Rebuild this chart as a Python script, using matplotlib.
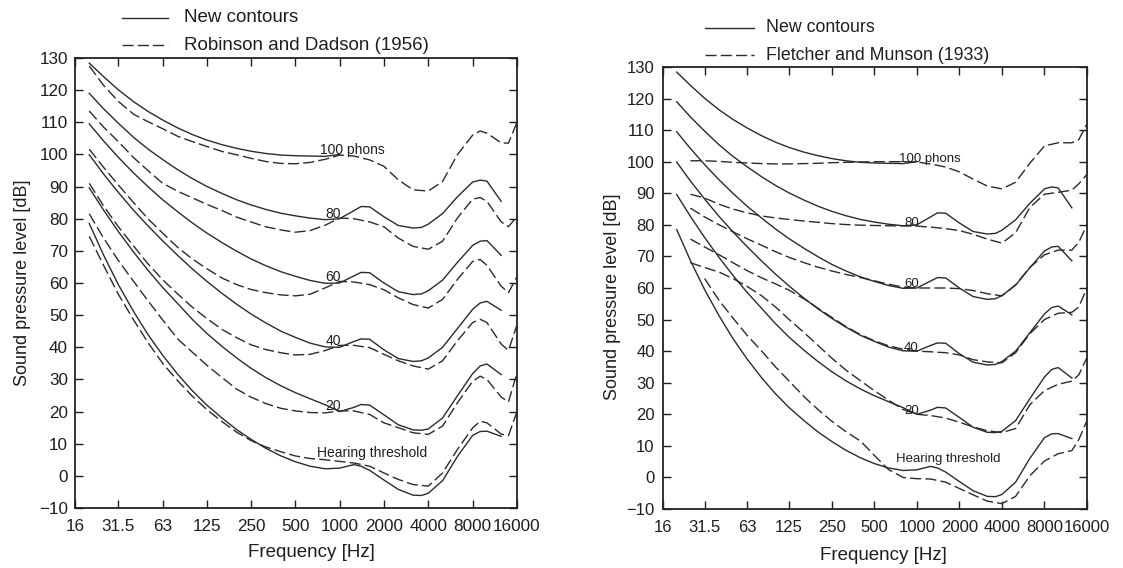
import numpy as np
import matplotlib
matplotlib.use("Agg")
import matplotlib.pyplot as plt
from matplotlib.lines import Line2D

plt.rcParams['font.family'] = ['Liberation Sans', 'DejaVu Sans']

nan = np.nan

# ---------------- data ----------------
tick_freqs = [16, 31.5, 63, 125, 250, 500, 1000, 2000, 4000, 8000, 16000]
tick_labels = ["16", "31.5", "63", "125", "250", "500", "1000", "2000", "4000", "8000", "16000"]
ytick_vals = list(range(-10, 131, 10))

# New contours (ISO 226:2003)
iso_freq = [20, 25, 31.5, 40, 50, 63, 80, 100, 125, 160, 200, 250, 315, 400, 500, 630, 800,
            1000, 1250, 1400, 1600, 2000, 2500, 3150, 3600, 4000, 5000, 6300, 8000, 9000, 10000, 12500]
iso_thr = [78.5, 68.7, 59.5, 51.1, 44.0, 37.5, 31.5, 26.5, 22.1, 17.9, 14.4, 11.4, 8.6, 6.2, 4.4, 3.0, 2.2,
           2.4, 3.5, 3.0, 1.7, -1.3, -4.2, -6.0, -6.1, -5.4, -1.5, 6.0, 12.6, 13.8, 13.9, 12.3]
iso_20 = [89.6, 82.7, 76.0, 69.6, 64.0, 58.6, 53.5, 48.7, 44.4, 40.2, 36.7, 33.5, 30.6, 28.0, 25.9, 24.0, 22.1,
          20.0, 21.3, 22.2, 22.0, 19.0, 15.9, 14.3, 14.2, 14.6, 18.0, 24.9, 31.8, 34.2, 34.8, 31.5]
iso_40 = [99.9, 93.9, 88.2, 82.6, 77.8, 73.1, 68.5, 64.4, 60.6, 56.7, 53.4, 50.4, 47.6, 45.0, 43.1, 41.3, 40.1,
          40.0, 41.8, 42.6, 42.5, 39.2, 36.5, 35.6, 35.8, 36.7, 40.0, 45.8, 51.8, 53.8, 54.3, 51.5]
iso_60 = [109.5, 104.2, 99.1, 94.2, 90.0, 85.9, 82.1, 78.7, 75.6, 72.5, 69.9, 67.5, 65.4, 63.5, 62.1, 60.8, 59.9,
          60.0, 62.2, 63.3, 63.2, 60.0, 57.3, 56.4, 56.6, 57.6, 60.9, 66.4, 71.7, 73.0, 73.2, 68.6]
iso_80 = [119.0, 114.2, 109.7, 105.3, 101.7, 98.4, 95.2, 92.5, 90.1, 87.8, 85.9, 84.3, 82.9, 81.7, 80.9, 80.2, 79.7,
          80.0, 82.5, 83.8, 83.7, 80.6, 77.9, 77.1, 77.3, 78.3, 81.6, 86.8, 91.4, 92.0, 91.7, 85.4]
iso_100_freq = [20, 25, 31.5, 40, 50, 63, 80, 100, 125, 160, 200, 250, 315, 400, 500, 630, 800, 1000]
iso_100 = [128.4, 124.2, 120.1, 116.4, 113.4, 110.7, 108.2, 106.2, 104.5, 103.0, 101.9, 101.0, 100.3, 99.8, 99.6,
           99.5, 99.4, 100.0]

# Robinson and Dadson (1956)
rd_freq = [20, 25, 31.5, 40, 50, 63, 80, 100, 125, 160, 200, 250, 315, 400, 500, 630, 800, 1000, 1250, 1600,
           2000, 2500, 3150, 4000, 5000, 6300, 8000, 9000, 10000, 12500, 14000, 16000]
rd_thr = [74.5, 65.5, 56.5, 48.5, 41.5, 35.0, 29.5, 24.8, 20.7, 16.8, 13.6, 11.0, 9.0, 7.5, 6.2, 5.4, 5.0, 4.5, 4.0,
          3.0, 0.9, -1.1, -2.7, -3.2, 0.9, 8.2, 14.9, 17.0, 16.5, 13.0, 12.5, 20.0]
rd_20 = [81.5, 74.0, 67.0, 60.5, 54.5, 48.5, 42.5, 38.5, 34.5, 30.5, 27.0, 24.5, 22.5, 21.0, 20.2, 19.7, 19.6, 20.2,
         20.2, 19.1, 16.5, 15.0, 13.4, 12.9, 15.5, 22.7, 29.4, 31.0, 30.0, 24.5, 23.0, 32.0]
rd_40 = [91.0, 84.0, 77.5, 71.5, 66.0, 61.0, 56.5, 52.5, 49.0, 45.5, 43.0, 40.8, 39.3, 38.3, 37.6, 37.8, 39.0, 40.6,
         40.6, 39.9, 37.8, 35.8, 34.2, 33.2, 35.8, 42.0, 47.7, 48.7, 47.7, 41.0, 39.0, 47.0]
rd_60 = [101.6, 96.0, 90.5, 85.0, 80.0, 75.5, 71.0, 67.5, 64.5, 61.5, 59.5, 58.0, 57.0, 56.3, 56.0, 56.5, 58.5, 60.5,
         60.3, 59.5, 57.9, 55.4, 53.3, 52.2, 54.9, 61.1, 66.7, 67.3, 65.5, 59.0, 57.0, 62.0]
rd_80 = [113.5, 108.5, 104.0, 99.0, 95.0, 91.0, 88.5, 86.5, 84.5, 82.5, 80.5, 79.0, 77.5, 76.5, 75.8, 76.3, 78.0,
         80.2, 80.0, 79.0, 77.5, 74.0, 71.4, 70.5, 73.0, 80.2, 86.1, 86.6, 85.4, 79.0, 77.5, 80.7]
rd_100 = [127.5, 121.5, 116.5, 112.5, 110.2, 108.0, 105.6, 104.0, 102.5, 100.9, 99.9, 98.8, 97.8, 97.2, 97.1, 97.5,
          98.5, 99.8, 99.5, 98.3, 96.3, 92.1, 89.0, 88.6, 91.6, 99.9, 106.0, 107.3, 106.6, 103.6, 103.5, 110.0]

# Fletcher and Munson (1933)
fm_freq = [25, 31.5, 40, 50, 63, 80, 100, 125, 160, 200, 250, 315, 400, 500, 630, 800, 1000, 1250, 1600, 2000,
           2500, 3150, 4000, 5000, 6300, 8000, 10000, 12500, 14000, 16000]
fm_thr = [nan, 63.0, 56.0, 50.5, 45.0, 40.0, 35.0, 30.5, 25.5, 21.5, 17.8, 14.5, 11.5, 7.0, 2.5, 0.0, -0.4, -0.5,
          -1.5, -3.5, -5.5, -7.5, -8.3, -6.0, 0.5, 5.2, 7.5, 8.5, 12.0, 18.0]
fm_20 = [68.0, 66.5, 65.0, 63.0, 60.5, 57.5, 54.0, 50.0, 45.8, 41.8, 37.8, 34.0, 30.6, 27.5, 24.5, 21.5, 20.0, 19.6,
         18.8, 17.5, 16.0, 14.8, 14.2, 15.5, 23.0, 27.5, 29.5, 30.5, 32.5, 38.0]
fm_40 = [75.5, 73.0, 70.5, 68.0, 65.5, 63.2, 61.3, 59.3, 56.5, 53.6, 50.7, 47.8, 45.2, 43.3, 41.7, 40.6, 40.0, 39.8,
         39.5, 38.8, 37.3, 36.6, 36.3, 39.5, 45.5, 50.0, 52.0, 52.3, 54.0, 60.0]
fm_60 = [85.3, 82.5, 80.0, 77.8, 75.6, 73.5, 71.5, 69.7, 68.0, 66.6, 65.4, 64.3, 63.3, 62.3, 61.2, 60.3, 60.0, 60.0,
         60.0, 59.8, 59.2, 58.2, 57.5, 61.0, 66.5, 70.5, 72.0, 72.0, 74.5, 80.0]
fm_80 = [89.7, 88.5, 86.5, 85.0, 83.8, 82.8, 82.2, 81.7, 81.2, 80.8, 80.4, 80.1, 79.9, 79.8, 79.7, 79.7, 79.6, 79.3,
         78.8, 78.2, 77.0, 75.5, 74.2, 77.5, 85.5, 89.7, 90.3, 91.0, 93.0, 96.0]
fm_100 = [100.3, 100.3, 100.1, 99.8, 99.6, 99.4, 99.3, 99.3, 99.4, 99.5, 99.7, 99.8, 99.9, 100.0, 100.0, 100.0, 99.9,
          99.3, 98.3, 96.8, 94.5, 92.3, 91.4, 93.5, 99.5, 105.0, 106.0, 106.0, 107.0, 112.0]

contour_labels = ["100 phons", "80", "60", "40", "20", "Hearing threshold"]
left_label_pos = [(734, 100.2), (803, 80.2), (803, 60.5), (803, 40.6), (803, 20.6), (705, 5.9)]
right_label_pos = [(742, 99.8), (813, 79.7), (813, 60.2), (813, 40.2), (813, 20.2), (710, 5.0)]

# ---------------- drawing ----------------
W, H = 1123, 568
fig = plt.figure(figsize=(W / 100, H / 100), dpi=100)
LC = '#2b2b2b'
TC = '#1e1e1e'
DASH = (0, (8, 3))
LW = 1.0

ax1 = fig.add_axes([75 / W, 1 - 508 / H, 442 / W, 450 / H])
ax2 = fig.add_axes([663 / W, 1 - 509 / H, 424 / W, 442 / H])


def style(ax, fs, ypad):
    ax.set_xscale('log', base=2)
    ax.set_xlim(16, 16000)
    ax.set_ylim(-10, 130)
    ax.set_xticks(tick_freqs)
    ax.set_xticklabels(tick_labels)
    ax.minorticks_off()
    ax.set_yticks(ytick_vals)
    ax.set_yticklabels([("\u2212" + str(-v)) if v < 0 else str(v) for v in ytick_vals])
    ax.tick_params(which='both', direction='in', top=True, right=True, length=6, width=1.0,
                   labelsize=fs, colors=TC)
    ax.tick_params(axis='x', pad=8)
    ax.tick_params(axis='y', pad=ypad)
    for s in ax.spines.values():
        s.set_linewidth(1.3)
        s.set_color('#222222')


style(ax1, 12.3, 5)
style(ax2, 12.0, 6)

new_sets = [(iso_100_freq, iso_100), (iso_freq, iso_80), (iso_freq, iso_60), (iso_freq, iso_40),
            (iso_freq, iso_20), (iso_freq, iso_thr)]
rd_sets = [rd_100, rd_80, rd_60, rd_40, rd_20, rd_thr]
fm_sets = [fm_100, fm_80, fm_60, fm_40, fm_20, fm_thr]

for ax in (ax1, ax2):
    for f, v in new_sets:
        ax.plot(f, v, color=LC, lw=LW, solid_joinstyle='round')
for v in rd_sets:
    ax1.plot(rd_freq, v, color=LC, lw=LW, linestyle=DASH)
for v in fm_sets:
    ax2.plot(fm_freq, v, color=LC, lw=LW, linestyle=DASH)

for txt, (fx, fy) in zip(contour_labels, left_label_pos):
    ax1.text(fx, fy, txt, fontsize=10, color=TC, va='baseline', ha='left')
for txt, (fx, fy) in zip(contour_labels, right_label_pos):
    ax2.text(fx, fy, txt, fontsize=9.5, color=TC, va='baseline', ha='left')

ax1.set_xlabel("Frequency [Hz]", fontsize=13.5, color=TC)
ax1.set_ylabel("Sound pressure level [dB]", fontsize=13, color=TC)
ax1.xaxis.set_label_coords(0.536, -0.08)
ax1.yaxis.set_label_coords(-0.1, 0.5)
ax2.set_xlabel("Frequency [Hz]", fontsize=13.5, color=TC)
ax2.set_ylabel("Sound pressure level [dB]", fontsize=13, color=TC)
ax2.xaxis.set_label_coords(0.519, -0.086)
ax2.yaxis.set_label_coords(-0.1, 0.48)


# legends (figure coordinates, pixels)
def legend_entry(x0, x1, xt, y, text, dashed, fs):
    yf = 1 - y / H
    fig.add_artist(Line2D([x0 / W, x1 / W], [yf, yf], color=LC, lw=1.0,
                          linestyle=DASH if dashed else '-', transform=fig.transFigure))
    fig.text(xt / W, yf, text, fontsize=fs, color=TC, va='center', ha='left')


legend_entry(122, 168, 184, 18, "New contours", False, 13.5)
legend_entry(122, 168, 184, 45, "Robinson and Dadson (1956)", True, 13.5)
legend_entry(705, 754, 766, 28, "New contours", False, 12.8)
legend_entry(705, 754, 766, 55, "Fletcher and Munson (1933)", True, 12.8)

fig.savefig("out.png", dpi=100)
